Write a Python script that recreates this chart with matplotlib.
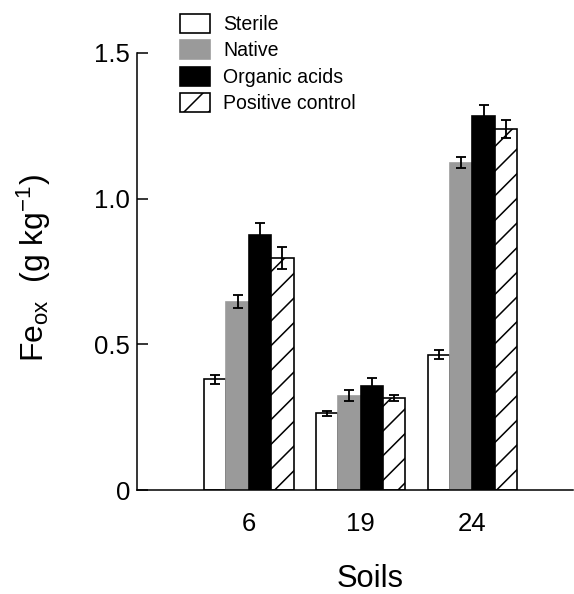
import matplotlib
matplotlib.use("Agg")
import matplotlib.pyplot as plt
import numpy as np

plt.rcParams["font.family"] = ["Liberation Sans", "DejaVu Sans"]
plt.rcParams["mathtext.fontset"] = "custom"
plt.rcParams["mathtext.rm"] = "Liberation Sans"
plt.rcParams["mathtext.it"] = "Liberation Sans:italic"
plt.rcParams["hatch.linewidth"] = 1.5
plt.rcParams["hatch.color"] = "black"

# Data
soils = ["6", "19", "24"]
treatments = ["Sterile", "Native", "Organic acids", "Positive control"]
sterile = [0.380, 0.263, 0.465]
sterile_err = [0.016, 0.009, 0.015]
native = [0.646, 0.323, 1.124]
native_err = [0.022, 0.019, 0.020]
organic_acids = [0.876, 0.358, 1.285]
organic_acids_err = [0.041, 0.026, 0.036]
positive_control = [0.796, 0.316, 1.239]
positive_control_err = [0.037, 0.010, 0.030]

series = [sterile, native, organic_acids, positive_control]
errors = [sterile_err, native_err, organic_acids_err, positive_control_err]
styles = [
    dict(facecolor="white", edgecolor="black", hatch=None),
    dict(facecolor="#9a9a9a", edgecolor="#9a9a9a", hatch=None),
    dict(facecolor="black", edgecolor="black", hatch=None),
    dict(facecolor="white", edgecolor="black", hatch="/"),
]

DPI = 74
fig = plt.figure(figsize=(574 / DPI, 594 / DPI), dpi=DPI)
ax = fig.add_axes([137 / 574, 104 / 594, 436 / 574, 437 / 594])

x = np.arange(1, len(soils) + 1)
width = 0.2
offsets = (np.arange(len(series)) - 1.5) * width

handles = []
for vals, errs, off, st, name in zip(series, errors, offsets, styles, treatments):
    bars = ax.bar(x + off, vals, width, facecolor=st["facecolor"],
                  edgecolor=st["edgecolor"], hatch=st["hatch"],
                  linewidth=1.6, label=name, zorder=2)
    ax.errorbar(x + off, vals, yerr=errs, fmt="none", ecolor="black",
                elinewidth=1.8, capsize=5, capthick=1.8, zorder=3)
    handles.append(bars)

ax.set_xlim(0, 3.9)
ax.set_ylim(0, 1.5)
ax.set_xticks(x)
ax.set_xticklabels(soils)
ax.set_yticks([0, 0.5, 1.0, 1.5])
ax.set_yticklabels(["0", "0.5", "1.0", "1.5"])

for side in ("top", "right"):
    ax.spines[side].set_visible(False)
for side in ("left", "bottom"):
    ax.spines[side].set_linewidth(1.5)

ax.tick_params(axis="y", direction="in", length=10.5, width=1.5,
               labelsize=25, pad=6.5)
ax.tick_params(axis="x", length=0, labelsize=25, pad=21)

fig.text(370 / 574, 1 - 579 / 594, "Soils", ha="center", va="center",
         fontsize=30)
fig.text(34 / 574, 1 - 268 / 594, r"Fe$_{\mathrm{ox}}$  (g kg$^{-1}$)",
         ha="center", va="center", rotation=90, fontsize=31)

fig.legend(handles=handles, labels=treatments, loc="upper left",
           bbox_to_anchor=(180 / 574, 1 - 14 / 594),
           bbox_transform=fig.transFigure, frameon=False, fontsize=19,
           handlelength=1.55, handleheight=1.1, handletextpad=0.65,
           labelspacing=0.33, borderpad=0, borderaxespad=0)

fig.savefig("out.png", dpi=DPI)
